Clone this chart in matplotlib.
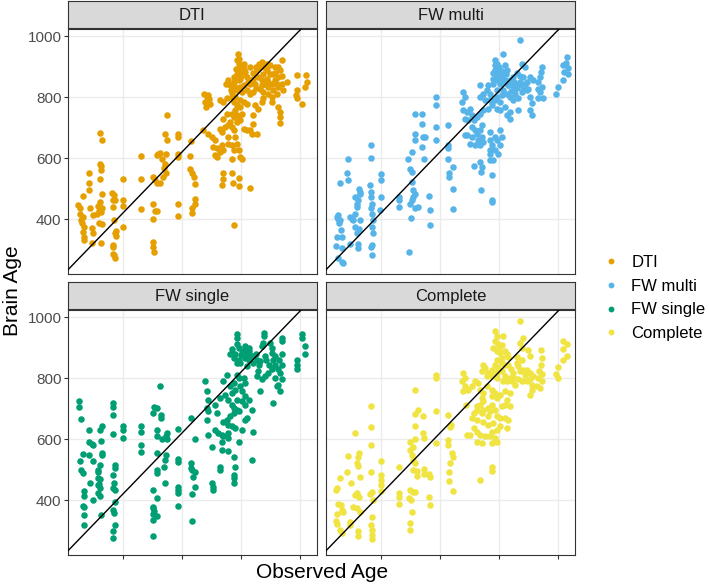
import matplotlib.pyplot as plt
from matplotlib.lines import Line2D

# (observed age, brain age), one list per model
dti = [
    (284, 475), (269, 446), (275, 435), (275, 418), (286, 408), (277, 397), (280, 388), (288, 375), (286, 358),
    (288, 340), (289, 331), (306, 553), (306, 519), (306, 497), (309, 438), (318, 415), (317, 370), (320, 353),
    (317, 323), (343, 683), (349, 661), (343, 580), (347, 574), (345, 561), (343, 531), (349, 484), (343, 457),
    (337, 443), (348, 438), (340, 427), (331, 418), (347, 423), (340, 388), (348, 383), (345, 322), (384, 486),
    (391, 479), (386, 462), (393, 464), (388, 440), (391, 397), (397, 362), (393, 353), (397, 346), (388, 315),
    (388, 307), (390, 282), (393, 271), (388, 287), (422, 531), (422, 464), (422, 443), (422, 373), (482, 608),
    (482, 533), (482, 433), (521, 539), (529, 528), (546, 519), (535, 519), (521, 449), (529, 427), (537, 427),
    (523, 399), (521, 326), (523, 309), (526, 293), (540, 613), (546, 617), (535, 610), (552, 599), (569, 741),
    (563, 679), (569, 659), (566, 613), (563, 582), (560, 568), (566, 550), (555, 539), (608, 679), (608, 670),
    (608, 613), (608, 604), (608, 451), (608, 410), (650, 657), (648, 606), (648, 566), (654, 550), (661, 539),
    (665, 515), (665, 465), (665, 451), (653, 435), (653, 421),
    (809, 943), (806, 921), (815, 910), (829, 910), (804, 894), (817, 888), (834, 883), (806, 877), (823, 872),
    (812, 856), (795, 850), (778, 856), (770, 845), (783, 839), (817, 834), (829, 839), (806, 823), (789, 814),
    (840, 823), (851, 845), (862, 817), (891, 916), (885, 899), (908, 910), (896, 877), (891, 856), (902, 845),
    (885, 828), (896, 817), (913, 834), (925, 845), (936, 856), (947, 867), (958, 921), (953, 888), (936, 899),
    (919, 877), (947, 834), (958, 845), (930, 823), (925, 801), (942, 812), (913, 812), (925, 785), (947, 768),
    (953, 752), (951, 735), (953, 716), (964, 823), (1009, 872), (1041, 872), (1043, 850), (1038, 834),
    (1009, 823), (1007, 806), (1009, 796), (1026, 779), (695, 812), (704, 801), (699, 785), (702, 768),
    (710, 806), (713, 793), (716, 779), (795, 867), (817, 861), (840, 867), (800, 834), (823, 817), (874, 888),
    (879, 867), (908, 861), (868, 845), (913, 850), (942, 845), (930, 877), (908, 888), (815, 927), (829, 894),
    (820, 900), (850, 900), (860, 880), (880, 910), (900, 900), (920, 905), (870, 830), (850, 810), (845, 850),
    (890, 840), (935, 880), (945, 900), (960, 870), (975, 850), (860, 860), (870, 900), (785, 825), (800, 800),
    (749, 790), (761, 785), (772, 796), (789, 801), (795, 785), (806, 774), (817, 790), (829, 785), (840, 779),
    (817, 768), (800, 757), (789, 746), (772, 746), (761, 730), (795, 735), (806, 741), (823, 746), (812, 730),
    (783, 719), (778, 708), (766, 703), (749, 697), (755, 686), (789, 703), (795, 692), (806, 719), (817, 724),
    (829, 697), (840, 692), (851, 692), (857, 681), (862, 713), (862, 741), (874, 681), (879, 763), (868, 774),
    (891, 785), (896, 796), (693, 692), (710, 681), (721, 670), (732, 659), (727, 637), (738, 632), (749, 621),
    (761, 626), (732, 610), (738, 604), (778, 648), (789, 642), (800, 670), (778, 670), (806, 648), (795, 626),
    (812, 626), (817, 604), (823, 599), (789, 596), (755, 642),
    (758, 550), (758, 531), (757, 511), (789, 550), (792, 517), (813, 535), (815, 509), (851, 503), (797, 380),
]

fw_multi = [
    (308, 598), (306, 552), (308, 528), (282, 517), (274, 413), (276, 402), (282, 397), (285, 364), (270, 342),
    (287, 342), (268, 311), (287, 304), (287, 260), (291, 255), (274, 271), (270, 408), (279, 386), (315, 408),
    (321, 402), (332, 418), (338, 451), (332, 473), (347, 500), (349, 484), (344, 462), (340, 440), (327, 397),
    (332, 375), (338, 353), (344, 320), (344, 304), (315, 320), (349, 397), (347, 369), (349, 490), (385, 643),
    (385, 601), (383, 511), (387, 490), (385, 473), (389, 451), (387, 435), (389, 418), (392, 397), (389, 375),
    (392, 353), (389, 315), (387, 307), (389, 282), (419, 547), (420, 528), (420, 473), (417, 429), (482, 473),
    (482, 462), (482, 440), (536, 744), (558, 744), (561, 711), (536, 679), (536, 659), (564, 670), (570, 668),
    (525, 621), (513, 596), (519, 566), (525, 555), (525, 522), (530, 495), (536, 484), (525, 462), (519, 451),
    (536, 435), (547, 440), (522, 405), (530, 473), (517, 293), (558, 637), (566, 599), (584, 475), (587, 429),
    (587, 382), (652, 550), (652, 539), (663, 500), (663, 432), (758, 555), (760, 497), (796, 464), (796, 457),
    (796, 544),
    (892, 987), (835, 943), (807, 921), (813, 910), (841, 905), (847, 889), (897, 910), (909, 899), (807, 889),
    (818, 878), (830, 867), (813, 856), (801, 845), (824, 845), (841, 856), (858, 856), (869, 867), (880, 878),
    (863, 839), (875, 828), (892, 850), (909, 845), (920, 828), (903, 823), (926, 867), (937, 856), (875, 812),
    (886, 796), (869, 790), (858, 801), (847, 812), (835, 823), (756, 839), (784, 839), (779, 823), (767, 812),
    (756, 801), (773, 790), (790, 790), (807, 790), (824, 785), (796, 774), (813, 763), (784, 763), (767, 757),
    (824, 757), (841, 768), (858, 752), (847, 741), (858, 730), (886, 757), (914, 823), (926, 801), (931, 780),
    (926, 757), (931, 741), (700, 817), (705, 801), (694, 785), (700, 757), (711, 752), (722, 763), (728, 741),
    (705, 730), (717, 725), (734, 725), (745, 735), (756, 746), (762, 708), (756, 692), (728, 703), (739, 692),
    (745, 681), (711, 675), (790, 686), (824, 692), (807, 670), (762, 670), (750, 659), (767, 654), (739, 643),
    (756, 643), (722, 648), (790, 659), (813, 659), (830, 670), (796, 643), (824, 643), (790, 626), (807, 626),
    (790, 615), (818, 615), (790, 593), (801, 593), (756, 588), (762, 572), (734, 574), (705, 675), (728, 670),
    (607, 801), (607, 774), (607, 703), (607, 659), (649, 708), (649, 643), (649, 632), (649, 599), (663, 572),
    (807, 905), (813, 872), (830, 850), (852, 839), (880, 845), (897, 817), (813, 823), (830, 807), (903, 867),
    (801, 880), (820, 900), (830, 885), (845, 875), (850, 840), (860, 820), (870, 850), (880, 830), (890, 870),
    (900, 840), (915, 850), (800, 860), (790, 810), (815, 800),
    (966, 900), (964, 883), (960, 866), (954, 849), (966, 833), (960, 816), (952, 799), (968, 799), (952, 827),
    (1019, 833), (1015, 810), (1036, 855), (1042, 883), (1048, 911), (1050, 931), (1054, 895), (1054, 875),
    (1036, 906),
]

fw_single = [
    (271, 726), (271, 706), (277, 666), (284, 552), (273, 528), (277, 499), (284, 488), (288, 429), (288, 414),
    (284, 381), (288, 376), (288, 350), (288, 317), (306, 631), (306, 592), (314, 585), (318, 581), (306, 549),
    (318, 530), (309, 457), (318, 402), (348, 644), (343, 631), (345, 595), (348, 556), (348, 549), (334, 499),
    (343, 516), (334, 494), (337, 472), (343, 468), (340, 453), (334, 450), (343, 439), (337, 422), (343, 415),
    (345, 351), (386, 719), (386, 706), (386, 680), (388, 618), (393, 516), (393, 505), (388, 483), (390, 455),
    (388, 439), (393, 433), (393, 395), (388, 367), (390, 359), (393, 318), (386, 299), (386, 277), (422, 642),
    (422, 631), (422, 603), (482, 642), (482, 622), (482, 581), (482, 557), (546, 774), (526, 706), (535, 702),
    (523, 686), (548, 680), (548, 669), (535, 631), (535, 609), (552, 600), (569, 620), (566, 609), (569, 600),
    (535, 556), (566, 549), (563, 532), (560, 510), (535, 499), (535, 488), (523, 433), (537, 406), (521, 378),
    (523, 373), (526, 365), (521, 354), (537, 348), (521, 334), (523, 282), (563, 457), (608, 633), (608, 536),
    (608, 524), (608, 444), (608, 433), (608, 422), (608, 381), (650, 669), (665, 600), (651, 521), (650, 505),
    (653, 499), (665, 494), (659, 477), (665, 444), (653, 420), (653, 332),
    (806, 944), (806, 933), (900, 949), (900, 938), (1026, 944), (1026, 933), (961, 933), (961, 922), (896, 916),
    (891, 905), (919, 916), (925, 900), (806, 911), (812, 900), (834, 905), (846, 900), (846, 889), (823, 883),
    (783, 878), (795, 867), (812, 861), (834, 867), (846, 861), (840, 883), (806, 850), (817, 850), (862, 872),
    (874, 861), (885, 856), (902, 872), (925, 883), (936, 872), (959, 878), (1009, 861), (1009, 845), (1038, 905),
    (1038, 878), (1009, 829), (936, 845), (959, 845), (947, 829), (925, 829), (913, 818), (902, 807), (879, 823),
    (874, 807), (891, 796), (936, 801), (953, 818), (959, 796), (947, 779), (953, 757), (942, 774), (885, 757),
    (930, 719), (772, 812), (761, 790), (806, 812), (795, 785), (812, 801), (829, 801), (834, 785), (817, 774),
    (800, 763), (789, 752), (783, 774), (823, 757), (834, 741), (806, 730), (823, 724), (834, 713), (846, 730),
    (857, 697), (789, 713), (778, 730), (795, 702), (806, 697), (812, 691), (795, 686), (783, 675), (772, 664),
    (778, 647), (789, 642), (800, 636), (823, 631), (840, 669), (834, 664), (778, 603), (761, 609), (755, 614),
    (755, 592), (778, 620), (744, 620), (733, 631), (710, 614), (761, 658), (699, 790), (704, 757), (710, 730),
    (704, 702), (710, 691), (704, 664), (733, 713), (738, 686), (749, 735), (766, 746), (862, 625), (812, 592),
    (755, 565), (778, 560), (795, 543), (800, 510), (857, 532), (721, 576), (749, 510),
    (790, 895), (800, 880), (820, 875), (830, 890), (850, 875), (860, 850), (840, 840), (870, 880), (880, 845),
    (905, 860), (915, 845), (930, 860), (950, 860),
    (721, 457), (725, 444), (725, 433), (795, 483), (795, 472), (797, 457), (749, 499),
]

complete = [
    (308, 546), (306, 494), (282, 472), (272, 439), (268, 433), (276, 389), (284, 384), (287, 367), (272, 354),
    (268, 332), (270, 323), (282, 301), (287, 293), (291, 362), (332, 620), (347, 554), (344, 543), (338, 521),
    (344, 512), (349, 477), (318, 455), (332, 417), (338, 422), (347, 411), (327, 378), (338, 373), (349, 362),
    (315, 329), (344, 299), (344, 282), (315, 318), (385, 708), (385, 640), (385, 581), (385, 491), (389, 428),
    (383, 420), (395, 400), (389, 345), (387, 318), (389, 301), (389, 285), (389, 271), (420, 527), (420, 483),
    (420, 466), (420, 450), (420, 430), (482, 510), (482, 422), (482, 411), (482, 389), (536, 760), (547, 697),
    (536, 684), (562, 677), (536, 642), (536, 600), (564, 620), (566, 603), (519, 592), (530, 576), (519, 563),
    (525, 549), (530, 532), (536, 521), (528, 499), (541, 496), (566, 501), (566, 486), (544, 479), (519, 433),
    (530, 428), (536, 428), (517, 406), (521, 400), (525, 362), (519, 326), (519, 301), (584, 486), (587, 477),
    (584, 411), (587, 384), (654, 521), (652, 494), (652, 463), (663, 430), (756, 466), (796, 510), (796, 497),
    (892, 988), (807, 955), (813, 938), (835, 938), (807, 922), (818, 911), (801, 900), (813, 889), (824, 883),
    (841, 889), (847, 878), (830, 867), (813, 861), (807, 845), (818, 834), (796, 828), (784, 818), (767, 845),
    (773, 834), (762, 823), (779, 807), (796, 807), (813, 818), (830, 823), (841, 807), (858, 801), (847, 790),
    (863, 790), (875, 779), (886, 796), (897, 790), (903, 828), (892, 823), (886, 839), (897, 861), (897, 900),
    (892, 916), (903, 933), (920, 894), (926, 872), (914, 828), (926, 818), (937, 807), (926, 796), (931, 779),
    (931, 763), (926, 746), (830, 850), (852, 845), (880, 850), (869, 818), (700, 818), (705, 801), (694, 790),
    (705, 774), (717, 763), (700, 757), (728, 774), (739, 790), (750, 785), (756, 763), (767, 752), (779, 774),
    (796, 763), (807, 752), (796, 741), (813, 735), (824, 746), (841, 757), (858, 752), (847, 730), (858, 708),
    (841, 713), (830, 708), (762, 735), (767, 724), (756, 713), (745, 708), (767, 697), (784, 702), (796, 713),
    (790, 691), (807, 697), (762, 686), (745, 697), (734, 686), (728, 669), (745, 664), (784, 675), (813, 675),
    (824, 669), (841, 669), (852, 664), (767, 658), (784, 647), (801, 653), (824, 642), (847, 636), (796, 625),
    (813, 631), (734, 636), (745, 625), (756, 614), (773, 609), (790, 609), (807, 603), (722, 614), (745, 592),
    (762, 587), (796, 587), (813, 592), (660, 554), (666, 543), (649, 598), (649, 581), (607, 587), (657, 647),
    (654, 640), (607, 691), (607, 812), (607, 801), (709, 713), (711, 614), (647, 680),
    (820, 900), (830, 910), (825, 860), (840, 845), (850, 870), (815, 800), (835, 790), (860, 830), (870, 800),
    (880, 870), (910, 810), (915, 790),
    (964, 893), (966, 865), (964, 842), (957, 825), (966, 814), (952, 802), (966, 791), (949, 774), (960, 768),
    (1019, 836), (1015, 814), (1020, 802), (1039, 921), (1050, 913), (1039, 895), (1051, 873), (1036, 859),
]

models = ['DTI', 'FW multi', 'FW single', 'Complete']
colors = ['#E69F00', '#56B4E9', '#009E73', '#F0E442']
y_ticks = [400, 600, 800, 1000]
x_ticks = [420, 620, 820, 1020]

plt.rcParams['font.family'] = ['Liberation Sans', 'DejaVu Sans']

W, H = 709, 585
fig = plt.figure(figsize=(W / 100, H / 100), dpi=100)


def box(x0, y0, x1, y1):
    # pixel box (top-left origin) -> figure fraction rect
    return [x0 / W, 1 - y1 / H, (x1 - x0) / W, (y1 - y0) / H]


corners = [(68, 29), (326, 29), (68, 310), (326, 310)]
data = [dti, fw_multi, fw_single, complete]

for i in range(4):
    x0, y0 = corners[i]
    ax = fig.add_axes(box(x0, y0, x0 + 249, y0 + 245))
    xs = [p[0] for p in data[i]]
    ys = [p[1] for p in data[i]]
    ax.scatter(xs, ys, s=22, color=colors[i], linewidths=0, zorder=2)
    ax.axline((0, 0), slope=1, color='black', lw=1.0, zorder=3)
    ax.set_xlim(234, 1078)
    ax.set_ylim(220, 1024)
    ax.set_xticks(x_ticks)
    ax.set_yticks(y_ticks)
    ax.grid(True, color='#EBEBEB', lw=1.0)
    ax.set_axisbelow(True)
    for sp in ax.spines.values():
        sp.set_color('#333333')
        sp.set_linewidth(0.8)
    ax.tick_params(axis='both', length=2.6, width=0.8, color='#333333',
                   labelcolor='#4D4D4D', labelsize=11, pad=2)
    ax.set_xticklabels([])
    if i % 2 == 1:
        ax.tick_params(axis='y', length=0, labelleft=False)
    if i < 2:
        ax.tick_params(axis='x', length=0)

    strip = fig.add_axes(box(x0, y0 - 28, x0 + 249, y0 - 1))
    strip.set_facecolor('#D9D9D9')
    strip.set_xticks([])
    strip.set_yticks([])
    for sp in strip.spines.values():
        sp.set_color('#333333')
        sp.set_linewidth(0.8)
    strip.text(0.5, 0.47, models[i], ha='center', va='center', fontsize=12, color='#1A1A1A')

fig.text(322 / W, 1 - 572 / H, 'Observed Age', ha='center', va='center', fontsize=15)
fig.text(13 / W, 1 - 291 / H, 'Brain Age', ha='center', va='center', rotation=90, fontsize=15)

handles = [Line2D([], [], marker='o', ls='', color=c, markersize=4.2, markeredgewidth=0) for c in colors]
fig.legend(handles, models, loc='center left', bbox_to_anchor=(603 / W, 1 - 298 / H), frameon=False,
           fontsize=12, handlelength=1.0, handletextpad=0.7, labelspacing=0.52, borderpad=0,
           borderaxespad=0)

fig.savefig('out.png', dpi=100)
